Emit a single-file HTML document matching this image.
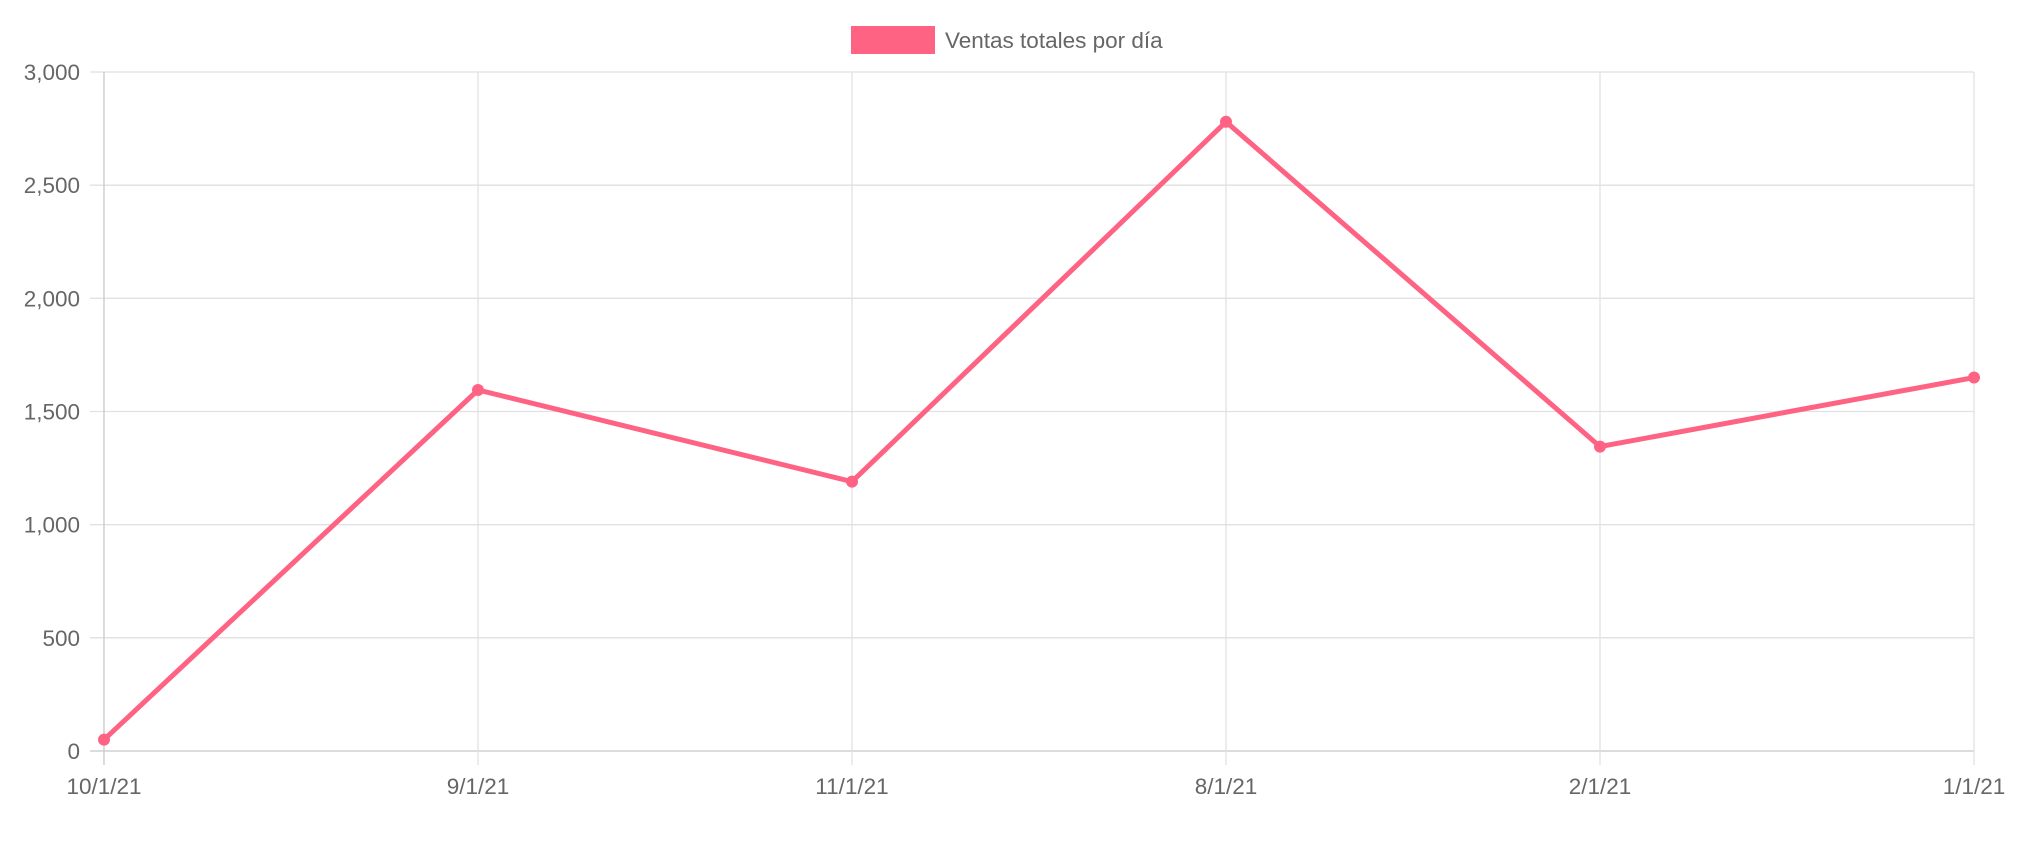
<!DOCTYPE html>
<html><head><meta charset="utf-8"><style>
html,body{margin:0;padding:0;background:#fff;}
svg{display:block;font-family:"Liberation Sans",Arial,sans-serif;}
</style></head><body>
<svg id="chart" width="2034" height="848" viewBox="0 0 2034 848" xmlns="http://www.w3.org/2000/svg">
<g id="grid"></g>
<g id="axes"></g>
<g id="series"></g>
<g>
<rect x="851" y="26" width="84" height="28" fill="#ff6384"/>
<text x="945" y="48" font-size="22.5" fill="#666">Ventas totales por día</text>
</g>
</svg>
<script>
const categories = ["10/1/21","9/1/21","11/1/21","8/1/21","2/1/21","1/1/21"];
const values = [50, 1595, 1190, 2780, 1345, 1650];
const yTicks = [0,500,1000,1500,2000,2500,3000];
const yTickLabels = ["0","500","1,000","1,500","2,000","2,500","3,000"];

const L=104,R=1974,T=72,B=751,YMAX=3000;
const NS="http://www.w3.org/2000/svg";
const xs=i=>L+(R-L)*i/(categories.length-1);
const ys=v=>B-(B-T)*v/YMAX;
function mk(tag,attrs,parent){const e=document.createElementNS(NS,tag);for(const k in attrs)e.setAttribute(k,attrs[k]);parent.appendChild(e);return e;}
const grid=document.getElementById('grid'),axes=document.getElementById('axes'),series=document.getElementById('series');
yTicks.forEach((t,i)=>{
  const y=ys(t);
  const ln=mk('line',{x1:L-14,x2:R,y1:y,y2:y,stroke:t===0?'#c8c8c8':'#e1e1e1','stroke-width':1.3},grid);
  
  
  const tx=mk('text',{x:80,y:y+8,'text-anchor':'end','font-size':22.5,fill:'#666'},axes);
  tx.textContent=yTickLabels[i];
  
  
});
categories.forEach((c,i)=>{
  const x=xs(i);
  const ln=mk('line',{x1:x,x2:x,y1:T,y2:B+14,stroke:i===0?'#c8c8c8':'#e1e1e1','stroke-width':1.3},grid);
  
  
  const tx=mk('text',{x:x,y:794,'text-anchor':'middle','font-size':22.5,fill:'#666'},axes);
  tx.textContent=c;
  
  
});
const pts=values.map((v,i)=>xs(i)+','+ys(v)).join(' ');
const pl=mk('polyline',{points:pts,fill:'none',stroke:'#ff6384','stroke-width':5,'stroke-linejoin':'miter'},series);


values.forEach((v,i)=>{
  const c=mk('circle',{cx:xs(i),cy:ys(v),r:6,fill:'#ff6384'},series);
  
  
});
</script>
</body></html>
